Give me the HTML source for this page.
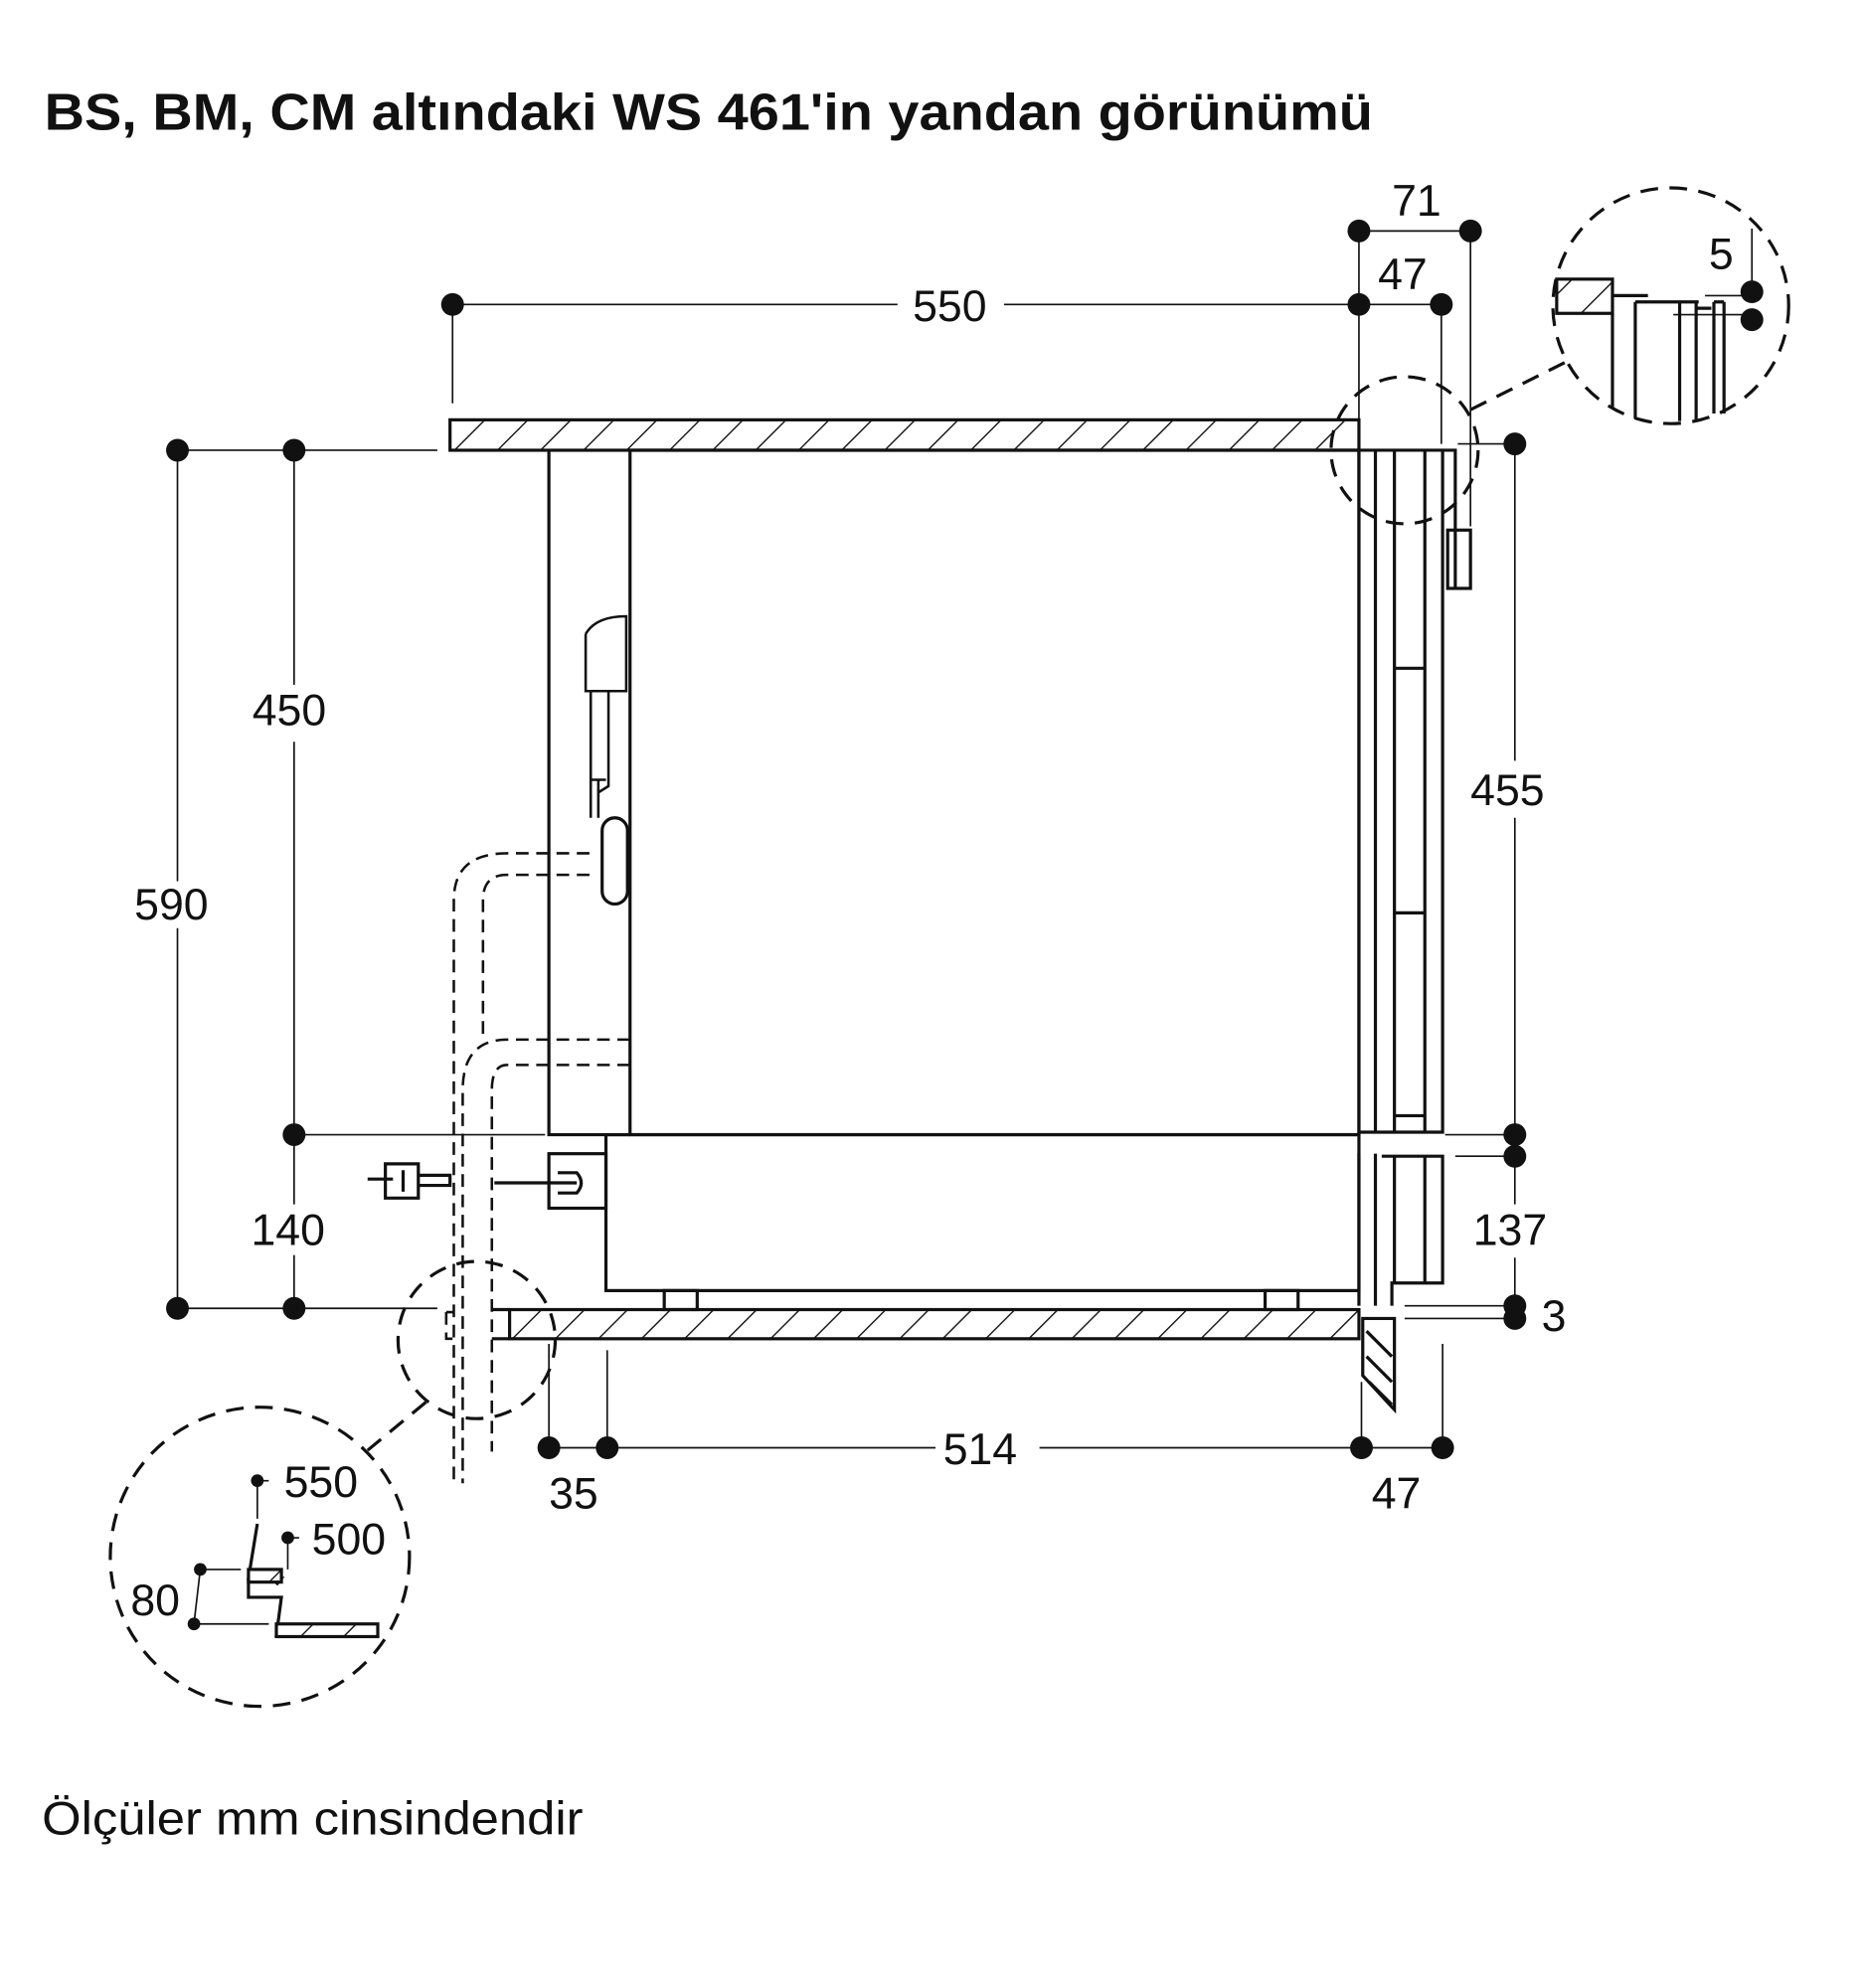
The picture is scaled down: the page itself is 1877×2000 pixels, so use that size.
<!DOCTYPE html>
<html><head><meta charset="utf-8"><style>
html,body{margin:0;padding:0;background:#fff;}
svg{display:block;}
text{font-family:"Liberation Sans",sans-serif;fill:#111;}
</style></head><body>
<svg width="1877" height="2000" viewBox="0 0 1472 1568" xmlns="http://www.w3.org/2000/svg">
<defs>
<pattern id="h" patternUnits="userSpaceOnUse" width="24" height="24" patternTransform="rotate(45)">
<rect width="24" height="24" fill="#fff"/><line x1="0" y1="0" x2="0" y2="24" stroke="#111" stroke-width="2.2"/>
</pattern>
</defs>
<text x="35" y="102" font-size="41" font-weight="bold" textLength="1048" lengthAdjust="spacingAndGlyphs">BS, BM, CM altındaki WS 461'in yandan görünümü</text>
<text x="33" y="1447" font-size="37" textLength="427" lengthAdjust="spacingAndGlyphs">Ölçüler mm cinsindendir</text>

<g stroke="#111" fill="none" stroke-width="2.5">
<rect x="355" y="331" width="717" height="24" fill="url(#h)"/>
<rect x="402" y="1033" width="670" height="23" fill="url(#h)"/>
<path d="M388 1033 H402 M388 1056 H402"/>
<rect x="497" y="355" width="575" height="540"/>
<path d="M433 355 V895 H497"/>
<rect x="478" y="895" width="594" height="123"/>
<rect x="524" y="1018" width="26" height="15"/>
<rect x="998" y="1018" width="26" height="15"/>
<rect x="433" y="910" width="45" height="43"/>
<path d="M1072 355 V893 H1138 V355 M1085 355 V893 M1100 355 V893 M1124 355 V893 M1072 355 H1148 V465 M1100 527 H1124 M1100 720 H1124 M1100 880 H1124"/>
<rect x="1142" y="418" width="18" height="46"/>
<path d="M1072 910 V1030 M1085 910 V1030 M1090 912 H1138 V1012 H1098 V1030 M1100 912 V1012 M1124 912 V1012"/>
<path d="M1075 1040 H1100 V1112 L1075 1085 Z"/>
<path d="M1078 1050 L1098 1070 M1078 1070 L1098 1090 M1080 1090 L1098 1108"/>
<path d="M462 500 Q470 486 494 486 V545 H480 V620 L472 625 V645 M462 500 V545 H485 M466 545 V615 H478 M466 615 V645 M472 615 V645" stroke-width="2"/>
<rect x="475" y="645" width="20" height="68" rx="10"/>
<path d="M290 930 H310 M304 918 V945 H330 V918 Z M318 923 V940 M330 927 H355 V935 H330 M390 933 H455 M440 925 H455 Q462 933 455 941 H440"/>
</g>

<g stroke="#111" fill="none" stroke-width="2" stroke-dasharray="10,6">
<path d="M465 673 H400 Q358 673 358 710 V1168"/>
<path d="M465 690 H400 Q381 690 381 710 V820"/>
<path d="M497 820 H400 Q365 820 365 860 V1170"/>
<path d="M497 840 H400 Q388 840 388 860 V1145"/>
<path d="M352 1035 H358 M352 1035 V1056 H358"/>
</g>

<g stroke="#111" fill="none" stroke-width="2.5" stroke-dasharray="14,9">
<circle cx="1108" cy="355" r="58"/>
<circle cx="1318" cy="241" r="93"/>
<path d="M1160 323 L1240 283"/>
<circle cx="376" cy="1057" r="62"/>
<circle cx="205" cy="1228" r="118"/>
<path d="M336 1106 L290 1144"/>
</g>

<g stroke="#111" fill="none" stroke-width="2.5">
<rect x="1228" y="220" width="44" height="27" fill="url(#h)"/>
<path d="M1272 233 H1300 M1272 247 V322 M1290 238 H1340 M1290 238 V330 M1325 238 V332 M1338 238 V332 M1338 243 H1350 M1352 238 V326 M1360 238 V326 M1352 238 H1360"/>
</g>
<g stroke="#111" stroke-width="1.3" fill="none">
<path d="M1345 233 H1380 M1320 248 H1380 M1382 180 V229"/>
</g>

<g stroke="#111" fill="none" stroke-width="2.5">
<path d="M203 1202 L196 1245 H222 L218 1250 M196 1245 V1260 H222 L218 1290 H290"/>
<rect x="196" y="1238" width="26" height="10" fill="url(#h)"/>
<rect x="218" y="1281" width="80" height="10" fill="url(#h)"/>
</g>
<g stroke="#111" stroke-width="1.3" fill="none">
<path d="M203 1168 H212 M203 1168 V1198 M227 1213 H236 M227 1213 V1238 M158 1238 H190 M153 1281 H212 M158 1238 L153 1281"/>
</g>
<g fill="#111">
<circle cx="203" cy="1168" r="5"/><circle cx="227" cy="1213" r="5"/>
<circle cx="158" cy="1238" r="5"/><circle cx="153" cy="1281" r="5"/>
</g>
<text x="224" y="1181" font-size="35">550</text>
<text x="246" y="1226" font-size="35">500</text>
<text x="103" y="1274" font-size="35">80</text>

<g stroke="#111" stroke-width="1.3" fill="none">
<path d="M357 240 H708 M792 240 H1072 M357 240 V318"/>
<path d="M1072 182 H1160 M1072 240 H1137 M1072 182 V330 M1160 182 V415 M1137 240 V350 M1150 350 H1195"/>
<path d="M140 355 H345 M140 355 V695 M140 732 V1032 M232 355 V540 M232 585 V895 M232 895 V950 M232 990 V1032 M232 895 H430 M140 1032 H345"/>
<path d="M1195 350 V600 M1195 645 V895 M1195 912 V950 M1195 992 V1030 M1140 895 H1195 M1148 912 H1195 M1108 1030 H1195 M1108 1040 H1195"/>
<path d="M433 1142 H479 M479 1142 H738 M820 1142 H1074 M1074 1142 H1138 M433 1060 V1142 M479 1065 V1142 M1074 1090 V1142 M1138 1060 V1142"/>
</g>
<g fill="#111">
<circle cx="357" cy="240" r="9"/><circle cx="1072" cy="240" r="9"/>
<circle cx="1072" cy="182" r="9"/><circle cx="1160" cy="182" r="9"/><circle cx="1137" cy="240" r="9"/>
<circle cx="1382" cy="230" r="9"/><circle cx="1382" cy="252" r="9"/>
<circle cx="140" cy="355" r="9"/><circle cx="232" cy="355" r="9"/><circle cx="232" cy="895" r="9"/>
<circle cx="140" cy="1032" r="9"/><circle cx="232" cy="1032" r="9"/>
<circle cx="1195" cy="350" r="9"/><circle cx="1195" cy="895" r="9"/><circle cx="1195" cy="912" r="9"/>
<circle cx="1195" cy="1030" r="9"/><circle cx="1195" cy="1040" r="9"/>
<circle cx="433" cy="1142" r="9"/><circle cx="479" cy="1142" r="9"/><circle cx="1074" cy="1142" r="9"/><circle cx="1138" cy="1142" r="9"/>
</g>
<g font-size="35">
<text x="720" y="253">550</text>
<text x="1098" y="170">71</text>
<text x="1087" y="228">47</text>
<text x="1348" y="212">5</text>
<text x="106" y="725">590</text>
<text x="199" y="572">450</text>
<text x="198" y="982">140</text>
<text x="1160" y="635">455</text>
<text x="1162" y="982">137</text>
<text x="1216" y="1050">3</text>
<text x="744" y="1155">514</text>
<text x="433" y="1190">35</text>
<text x="1082" y="1190">47</text>
</g>
</svg>
</body></html>
